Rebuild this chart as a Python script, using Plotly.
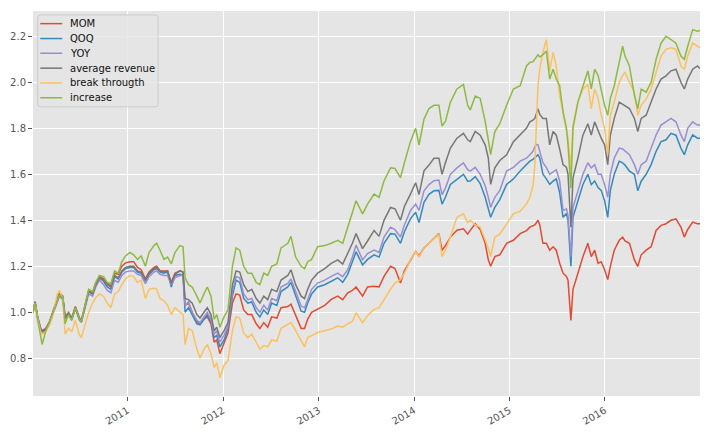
import plotly.graph_objects as go

dates = [
    "2010-01-04", "2010-01-12", "2010-01-22", "2010-02-01", "2010-02-08", "2010-02-22", "2010-03-08", "2010-03-22",
    "2010-04-06", "2010-04-15", "2010-04-28", "2010-05-07", "2010-05-20", "2010-06-01", "2010-06-15", "2010-07-01",
    "2010-07-08", "2010-07-22", "2010-08-05", "2010-08-20", "2010-09-01", "2010-09-15", "2010-10-01", "2010-10-15",
    "2010-10-29", "2010-11-12", "2010-11-26", "2010-12-10", "2010-12-24",
    "2011-01-10", "2011-01-24", "2011-02-08", "2011-02-22", "2011-03-10", "2011-03-24", "2011-04-12", "2011-04-22",
    "2011-05-05", "2011-05-20", "2011-06-03", "2011-06-17", "2011-07-01", "2011-07-20", "2011-08-01", "2011-08-09",
    "2011-08-22", "2011-09-05", "2011-09-23", "2011-10-05", "2011-10-20", "2011-11-02", "2011-11-16", "2011-11-28",
    "2011-12-08", "2011-12-20",
    "2012-01-05", "2012-01-20", "2012-02-06", "2012-02-20", "2012-03-05", "2012-03-20", "2012-04-05", "2012-04-20",
    "2012-05-07", "2012-05-21", "2012-06-05", "2012-06-20", "2012-07-05", "2012-07-25", "2012-08-10", "2012-09-05",
    "2012-09-17", "2012-10-05", "2012-10-26", "2012-11-08", "2012-11-20", "2012-12-05", "2012-12-28",
    "2013-01-24", "2013-02-18", "2013-03-15", "2013-04-03", "2013-04-22", "2013-05-10", "2013-05-24", "2013-06-18",
    "2013-07-07", "2013-08-01", "2013-08-20", "2013-09-08", "2013-10-03", "2013-10-20", "2013-11-10", "2013-11-25",
    "2013-12-18",
    "2014-01-07", "2014-01-20", "2014-02-08", "2014-02-27", "2014-03-18", "2014-04-06", "2014-04-18", "2014-05-01",
    "2014-05-20", "2014-06-14", "2014-07-09", "2014-07-25", "2014-08-04", "2014-08-23", "2014-09-11", "2014-09-30",
    "2014-10-12", "2014-10-21", "2014-11-06", "2014-11-25", "2014-12-21",
    "2015-01-16", "2015-02-11", "2015-03-07", "2015-03-20", "2015-04-01", "2015-04-08", "2015-04-14", "2015-04-20",
    "2015-04-27", "2015-05-09", "2015-05-22", "2015-06-04", "2015-06-17", "2015-06-29", "2015-07-12", "2015-07-25",
    "2015-08-07", "2015-08-13", "2015-08-24", "2015-09-01", "2015-09-20", "2015-10-09", "2015-10-28", "2015-11-10",
    "2015-11-23", "2015-12-06", "2015-12-18", "2015-12-31",
    "2016-01-12", "2016-01-22", "2016-02-06", "2016-02-25", "2016-03-09", "2016-03-18", "2016-04-04", "2016-04-23",
    "2016-05-06", "2016-05-19", "2016-06-07", "2016-06-26", "2016-07-15", "2016-08-03", "2016-08-22", "2016-09-10",
    "2016-09-29", "2016-10-18", "2016-10-31", "2016-11-13", "2016-12-02", "2016-12-20", "2016-12-30",
]

mom = [
    1.00, 1.045, 0.98, 0.935, 0.92, 0.93, 0.96, 1.01, 1.06, 1.085, 1.07, 0.98, 1.0, 0.975, 1.025, 0.975,
    0.965, 1.025, 1.095, 1.085, 1.125, 1.155, 1.145, 1.125, 1.115, 1.17, 1.165, 1.2, 1.215,
    1.22, 1.22, 1.195, 1.185, 1.145, 1.175, 1.195, 1.2, 1.18, 1.18, 1.18, 1.13, 1.17, 1.18, 1.175, 1.03,
    1.04, 1.0, 0.96, 0.95, 0.97, 0.98, 0.95, 0.87, 0.88, 0.82,
    0.87, 0.91, 1.04, 1.08, 1.075, 1.01, 0.99, 0.99, 0.95, 0.93, 0.955, 0.935, 0.98, 0.975, 1.02, 1.025,
    1.035, 0.99, 0.93, 0.93, 0.97, 1.0, 1.013,
    1.03, 1.056, 1.07, 1.055, 1.085, 1.095, 1.11, 1.07, 1.11, 1.113, 1.11, 1.156, 1.2, 1.19, 1.127, 1.18,
    1.228,
    1.265, 1.245, 1.28, 1.3, 1.32, 1.342, 1.27, 1.29, 1.327, 1.357, 1.363, 1.34, 1.356, 1.385, 1.36, 1.3,
    1.228, 1.2, 1.242, 1.25, 1.3,
    1.313, 1.342, 1.355, 1.37, 1.375, 1.38, 1.39, 1.4, 1.38, 1.3, 1.3, 1.27, 1.285, 1.27, 1.213, 1.17,
    1.156, 1.14, 0.965, 1.1, 1.17, 1.242, 1.3, 1.242, 1.27, 1.213, 1.22, 1.185,
    1.142, 1.2, 1.27, 1.313, 1.327, 1.31, 1.3, 1.228, 1.2, 1.25, 1.27, 1.285, 1.356, 1.378, 1.385, 1.4,
    1.406, 1.37, 1.327, 1.36, 1.392, 1.385, 1.385,
]

qoq = [
    1.00, 1.045, 0.975, 0.93, 0.915, 0.925, 0.955, 1.0, 1.055, 1.08, 1.065, 0.975, 0.995, 0.97, 1.02, 0.97,
    0.96, 1.02, 1.09, 1.08, 1.12, 1.15, 1.135, 1.11, 1.1, 1.155, 1.145, 1.175, 1.19,
    1.195, 1.195, 1.175, 1.17, 1.135, 1.165, 1.185, 1.19, 1.175, 1.17, 1.175, 1.11, 1.16, 1.165, 1.16, 1.0,
    1.02, 0.99, 0.95, 0.945, 0.97, 0.99, 0.96, 0.89, 0.9, 0.85,
    0.88, 0.93, 1.07, 1.14, 1.13, 1.06, 1.04, 1.045, 1.0, 0.98, 1.01, 0.99, 1.04, 1.03, 1.09, 1.11,
    1.13, 1.07, 1.005, 1.0, 1.04, 1.08, 1.11,
    1.12, 1.134, 1.15, 1.13, 1.165, 1.22, 1.263, 1.206, 1.23, 1.25, 1.24, 1.3, 1.342, 1.34, 1.3, 1.35,
    1.406,
    1.435, 1.39, 1.478, 1.513, 1.528, 1.53, 1.47, 1.5, 1.556, 1.578, 1.6, 1.57, 1.571, 1.59, 1.56, 1.5,
    1.456, 1.413, 1.456, 1.49, 1.556,
    1.58, 1.614, 1.64, 1.657, 1.665, 1.671, 1.68, 1.685, 1.67, 1.6, 1.58, 1.556, 1.57, 1.58, 1.52, 1.413,
    1.43, 1.4, 1.2, 1.413, 1.485, 1.556, 1.6, 1.555, 1.571, 1.542, 1.53, 1.485,
    1.413, 1.53, 1.6, 1.657, 1.65, 1.64, 1.614, 1.6, 1.528, 1.57, 1.6, 1.642, 1.7, 1.742, 1.75, 1.778,
    1.77, 1.714, 1.685, 1.728, 1.771, 1.757, 1.757,
]

yoy = [
    1.00, 1.04, 0.975, 0.93, 0.91, 0.92, 0.95, 0.995, 1.045, 1.07, 1.055, 0.97, 0.99, 0.965, 1.015, 0.965,
    0.955, 1.015, 1.08, 1.07, 1.11, 1.14, 1.12, 1.095, 1.085, 1.14, 1.13, 1.16, 1.175,
    1.18, 1.18, 1.165, 1.16, 1.125, 1.155, 1.175, 1.18, 1.165, 1.16, 1.16, 1.12, 1.15, 1.16, 1.16, 1.03,
    1.045, 1.0, 0.965, 0.955, 0.98, 1.0, 0.97, 0.905, 0.92, 0.87,
    0.9, 0.94, 1.09, 1.155, 1.15, 1.08, 1.055, 1.06, 1.02, 1.0, 1.03, 1.01, 1.06, 1.05, 1.11, 1.125,
    1.145, 1.09, 1.027, 1.02, 1.06, 1.1, 1.127,
    1.14, 1.156, 1.17, 1.155, 1.185, 1.24, 1.292, 1.228, 1.255, 1.27, 1.26, 1.327, 1.37, 1.36, 1.327, 1.38,
    1.442,
    1.47, 1.443, 1.528, 1.555, 1.572, 1.575, 1.512, 1.54, 1.6, 1.628, 1.65, 1.62, 1.614, 1.63, 1.6, 1.55,
    1.5, 1.456, 1.5, 1.53, 1.614,
    1.63, 1.657, 1.67, 1.685, 1.7, 1.72, 1.73, 1.728, 1.7, 1.65, 1.63, 1.6, 1.61, 1.62, 1.571, 1.442,
    1.45, 1.42, 1.242, 1.456, 1.528, 1.6, 1.65, 1.628, 1.642, 1.6, 1.6, 1.556,
    1.5, 1.6, 1.671, 1.714, 1.71, 1.7, 1.685, 1.642, 1.6, 1.642, 1.657, 1.714, 1.771, 1.814, 1.828, 1.843,
    1.828, 1.771, 1.742, 1.8, 1.828, 1.814, 1.814,
]

avg_revenue = [
    1.00, 1.045, 0.975, 0.93, 0.915, 0.925, 0.955, 1.0, 1.05, 1.075, 1.06, 0.975, 0.995, 0.97, 1.02, 0.97,
    0.96, 1.02, 1.09, 1.08, 1.12, 1.15, 1.14, 1.12, 1.11, 1.16, 1.15, 1.18, 1.195,
    1.2, 1.2, 1.18, 1.175, 1.14, 1.17, 1.19, 1.195, 1.18, 1.175, 1.18, 1.125, 1.165, 1.18, 1.175, 1.06,
    1.055, 1.04, 0.99, 0.975, 1.0, 1.02, 0.99, 0.92, 0.935, 0.89,
    0.92, 0.955, 1.12, 1.18, 1.175, 1.12, 1.09, 1.1, 1.06, 1.04, 1.07, 1.055, 1.1, 1.09, 1.14, 1.16,
    1.185, 1.12, 1.07, 1.06, 1.1, 1.14, 1.17,
    1.19, 1.213, 1.228, 1.21, 1.256, 1.3, 1.342, 1.277, 1.31, 1.356, 1.33, 1.4, 1.456, 1.45, 1.4, 1.46,
    1.514,
    1.563, 1.512, 1.615, 1.64, 1.67, 1.67, 1.6, 1.65, 1.714, 1.757, 1.778, 1.75, 1.742, 1.786, 1.77, 1.728,
    1.671, 1.556, 1.628, 1.66, 1.685,
    1.742, 1.77, 1.8, 1.828, 1.835, 1.843, 1.86, 1.885, 1.86, 1.843, 1.843, 1.728, 1.786, 1.77, 1.71, 1.642,
    1.63, 1.6, 1.37, 1.585, 1.671, 1.77, 1.82, 1.771, 1.828, 1.79, 1.757, 1.728,
    1.642, 1.77, 1.843, 1.914, 1.905, 1.9, 1.886, 1.843, 1.786, 1.843, 1.857, 1.914, 1.971, 2.014, 2.028, 2.05,
    2.057, 2.0, 1.971, 2.014, 2.057, 2.071, 2.06,
]

break_through = [
    1.00, 1.04, 0.97, 0.92, 0.905, 0.915, 0.945, 0.99, 1.075, 1.095, 1.06, 0.905, 0.93, 0.915, 0.965, 0.90,
    0.89, 0.95, 1.0, 1.04, 1.065, 1.08, 1.07, 1.04, 1.02, 1.08, 1.09, 1.12, 1.145,
    1.16, 1.155, 1.13, 1.14, 1.06, 1.1, 1.105, 1.1, 1.06, 1.05, 1.03, 0.99, 1.02, 1.0, 0.99, 0.86,
    0.93, 0.92, 0.84, 0.80, 0.84, 0.86, 0.82, 0.76, 0.78, 0.715,
    0.77, 0.79, 0.92, 0.98, 0.975, 0.91, 0.89, 0.905, 0.87, 0.84, 0.855, 0.85, 0.88, 0.875, 0.93, 0.945,
    0.955, 0.92, 0.88, 0.85, 0.89, 0.9, 0.912,
    0.92, 0.927, 0.941, 0.935, 0.95, 0.96, 0.998, 0.955, 0.985, 1.013, 1.02, 1.056, 1.1, 1.127, 1.142, 1.17,
    1.228,
    1.265, 1.24, 1.28, 1.3, 1.32, 1.34, 1.242, 1.27, 1.327, 1.413, 1.428, 1.39, 1.4, 1.38, 1.37, 1.31,
    1.28, 1.242, 1.327, 1.34, 1.385,
    1.428, 1.44, 1.47, 1.5, 1.55, 1.64, 1.843, 1.985, 2.057, 2.13, 2.186, 2.05, 2.13, 2.07, 1.943, 1.872,
    1.8, 1.757, 1.62, 1.814, 1.915, 1.971, 1.99, 1.885, 1.971, 1.93, 1.857, 1.8,
    1.685, 1.857, 1.915, 2.0, 2.03, 2.043, 2.0, 1.957, 1.857, 1.9, 1.928, 1.97, 2.043, 2.114, 2.143, 2.15,
    2.143, 2.071, 2.057, 2.114, 2.171, 2.157, 2.15,
]

increase = [
    1.00, 1.04, 0.965, 0.90, 0.86, 0.92, 0.955, 1.0, 1.05, 1.075, 1.065, 0.95, 0.99, 0.965, 1.02, 0.97,
    0.96, 1.03, 1.10, 1.09, 1.13, 1.16, 1.155, 1.13, 1.125, 1.18, 1.17, 1.22, 1.245,
    1.26, 1.25, 1.23, 1.245, 1.2, 1.26, 1.29, 1.30, 1.27, 1.23, 1.24, 1.21, 1.26, 1.29, 1.285, 1.15,
    1.12, 1.11, 1.07, 1.04, 1.08, 1.11, 1.07, 0.97, 0.99, 0.935,
    0.98, 1.01, 1.2, 1.28, 1.27, 1.2, 1.17, 1.17, 1.13, 1.12, 1.17, 1.16, 1.2, 1.21, 1.28, 1.3,
    1.33, 1.24, 1.2, 1.19, 1.22, 1.23, 1.285,
    1.29, 1.3, 1.313, 1.3, 1.37, 1.44, 1.485, 1.428, 1.47, 1.514, 1.5, 1.571, 1.628, 1.625, 1.585, 1.65,
    1.742,
    1.8, 1.728, 1.84, 1.886, 1.9, 1.9, 1.81, 1.83, 1.914, 1.971, 1.99, 1.9, 1.88, 1.94, 1.93, 1.83,
    1.75, 1.685, 1.786, 1.82, 1.9,
    1.971, 1.985, 2.071, 2.086, 2.09, 2.1, 2.11, 2.12, 2.11, 2.12, 2.136, 2.014, 2.057, 2.014, 1.985, 1.872,
    1.8, 1.728, 1.54, 1.8, 1.915, 1.985, 2.05, 1.971, 2.057, 2.03, 1.971, 1.9,
    1.857, 1.93, 1.985, 2.086, 2.157, 2.114, 2.071, 1.943, 1.885, 1.97, 1.957, 2.0, 2.1, 2.17, 2.2, 2.186,
    2.17, 2.114, 2.1, 2.157, 2.229, 2.222, 2.225,
]

series_names = ["MOM", "QOQ", "YOY", "average revenue", "break througth", "increase"]
series_values = [mom, qoq, yoy, avg_revenue, break_through, increase]
colors = ["#E24A33", "#348ABD", "#988ED5", "#777777", "#FBC15E", "#8EBA42"]

y_ticks = [0.8, 1.0, 1.2, 1.4, 1.6, 1.8, 2.0, 2.2]
x_ticks = ["2011-01-01", "2012-01-01", "2013-01-01", "2014-01-01", "2015-01-01", "2016-01-01"]
x_tick_labels = ["2011", "2012", "2013", "2014", "2015", "2016"]

W, H = 710, 437
ML, MR, MT, MB = 31, 10, 11, 36
PW, PH = W - ML - MR, H - MT - MB


def px_x(px):
    return (px - ML) / PW


def px_y(py):
    return (H - MB - py) / PH


fig = go.Figure()
for name, vals, col in zip(series_names, series_values, colors):
    fig.add_trace(go.Scatter(x=dates, y=vals, mode="lines", name=name,
                             line=dict(color=col, width=1.5), showlegend=False))

# legend drawn in the matplotlib style (box, short handles, tight rows)
shapes = []
annotations = []
bx0, bx1, by0, by1, r = 35.7, 156.5, 15.0, 108.0, 3.0
path = (f"M {px_x(bx0 + r)},{px_y(by0)} L {px_x(bx1 - r)},{px_y(by0)} "
        f"Q {px_x(bx1)},{px_y(by0)} {px_x(bx1)},{px_y(by0 + r)} "
        f"L {px_x(bx1)},{px_y(by1 - r)} Q {px_x(bx1)},{px_y(by1)} {px_x(bx1 - r)},{px_y(by1)} "
        f"L {px_x(bx0 + r)},{px_y(by1)} Q {px_x(bx0)},{px_y(by1)} {px_x(bx0)},{px_y(by1 - r)} "
        f"L {px_x(bx0)},{px_y(by0 + r)} Q {px_x(bx0)},{px_y(by0)} {px_x(bx0 + r)},{px_y(by0)} Z")
shapes.append(dict(type="path", xref="paper", yref="paper", path=path,
                   fillcolor="rgba(229,229,229,0.8)", line=dict(color="#CCCCCC", width=1), layer="above"))
row_y = [23.8, 38.9, 53.8, 68.9, 83.9, 98.9]
for name, col, ry in zip(series_names, colors, row_y):
    shapes.append(dict(type="line", xref="paper", yref="paper",
                       x0=px_x(38.3), x1=px_x(60.3), y0=px_y(ry), y1=px_y(ry),
                       line=dict(color=col, width=1.5), layer="above"))
    annotations.append(dict(xref="paper", yref="paper", x=px_x(66.3), y=px_y(ry),
                            xanchor="left", yanchor="middle", text=name, showarrow=False,
                            font=dict(family="DejaVu Sans", size=10, color="#111111")))

fig.update_layout(
    width=W, height=H,
    margin=dict(l=ML, r=MR, t=MT, b=MB),
    paper_bgcolor="white",
    plot_bgcolor="#E5E5E5",
    font=dict(family="DejaVu Sans", size=10, color="#555555"),
    showlegend=False,
    shapes=shapes,
    annotations=annotations,
    xaxis=dict(type="date", range=[dates[0], dates[-1]], tickvals=x_ticks, ticktext=x_tick_labels,
               tickangle=-30, showgrid=True, gridcolor="white", gridwidth=1,
               ticks="outside", ticklen=4, tickcolor="#555555", showline=False, zeroline=False),
    yaxis=dict(range=[0.636, 2.31], tickvals=y_ticks, ticktext=[f"{v:.1f}" for v in y_ticks],
               showgrid=True, gridcolor="white", gridwidth=1,
               ticks="outside", ticklen=4, tickcolor="#555555", showline=False, zeroline=False),
)

fig.write_html("out.html", config={"displayModeBar": False})
